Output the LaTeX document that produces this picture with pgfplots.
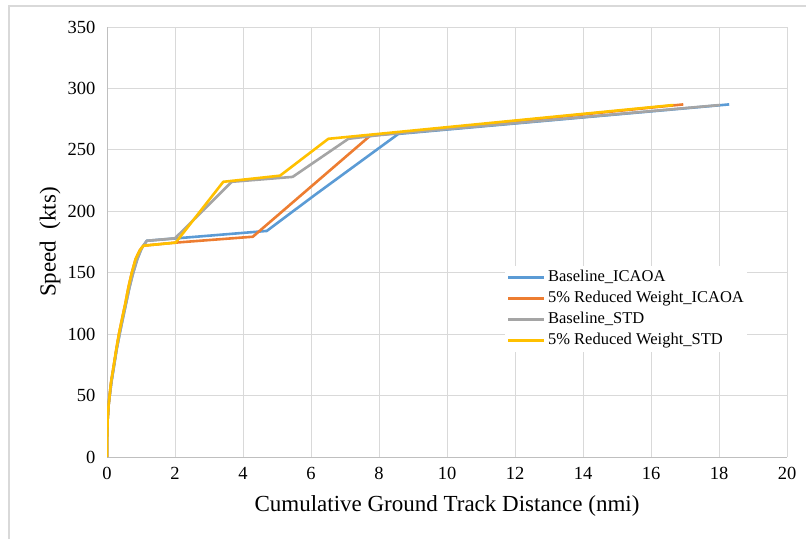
\documentclass[border=0pt]{standalone}
\usepackage{fontspec}
\setmainfont{Liberation Serif}
\usepackage{pgfplots}
\pgfplotsset{compat=1.18}

\definecolor{cBlue}{HTML}{5B9BD5}
\definecolor{cOrange}{HTML}{ED7D31}
\definecolor{cGray}{HTML}{A5A5A5}
\definecolor{cYellow}{HTML}{FFC000}
\definecolor{gridgray}{HTML}{D9D9D9}
\definecolor{axisgray}{HTML}{BFBFBF}

\begin{document}
\begin{tikzpicture}
\useasboundingbox (0,0) rectangle (806pt,539pt);
% outer chart frame
\draw[gridgray, line width=1.3pt] (9pt,0pt) -- (9pt,533pt) -- (806pt,533pt);

\begin{axis}[
  at={(107pt,82pt)}, anchor=south west,
  scale only axis, width=680pt, height=430pt,
  xmin=0, xmax=20, ymin=0, ymax=350,
  xtick={0,2,4,6,8,10,12,14,16,18,20},
  xticklabels={0,2,4,6,8,10,12,14,16,18,20},
  ytick={0,50,100,150,200,250,300,350},
  yticklabels={0,50,100,150,200,250,300,350},
  grid=major,
  major grid style={draw=gridgray, line width=1pt},
  axis x line*=bottom, axis y line*=left,
  axis line style={draw=axisgray, line width=1pt},
  major tick length=0pt,
  tick label style={font=\rmfamily\fontsize{18.5}{20}\selectfont},
  xticklabel style={yshift=-7pt},
  yticklabel style={xshift=-8pt},
  xlabel={Cumulative Ground Track Distance (nmi)},
  ylabel={Speed\ \ (kts)},
  label style={font=\fontsize{23}{26}\selectfont},
  xlabel style={at={(axis description cs:0.5,0)}, anchor=center, yshift=-49pt},
  ylabel style={at={(axis description cs:0,0.5)}, anchor=center, rotate=0, yshift=57pt},
  legend cell align=left,
  legend style={
    at={(0.585,0.445)}, anchor=north west,
    draw=none, fill=white,
    font=\fontsize{16.5}{19}\selectfont,
    inner xsep=2pt, inner ysep=2pt,
    row sep=2pt, column sep=1pt,
    nodes={inner sep=1.5pt, text height=12pt, text depth=4pt},
  },
  legend image code/.code={\draw[#1] (0pt,0pt) -- (36pt,0pt);},
  every axis plot/.append style={line width=2.6pt, line join=round},
]

% Baseline_ICAOA
\addplot[cBlue] coordinates {
  (0,0) (0.005,16) (0.02,31) (0.05,43) (0.085,51) (0.13,61) (0.2,73) (0.28,87)
  (0.37,100) (0.46,112) (0.56,125) (0.66,138) (0.77,150) (0.89,161) (1.02,170)
  (1.17,176) (4.70,184) (6.05,212) (8.57,263) (18.30,287)
};
\addlegendentry{Baseline\_ICAOA}

% 5% Reduced Weight_ICAOA
\addplot[cOrange] coordinates {
  (0,0) (0.005,16) (0.02,31) (0.05,43) (0.08,51) (0.12,61) (0.19,73) (0.27,87)
  (0.35,100) (0.44,112) (0.54,125) (0.63,138) (0.73,150) (0.84,161) (0.96,168)
  (1.07,172) (2.02,174.5) (4.29,179.3) (7.74,261.5) (16.95,287)
};
\addlegendentry{5\% Reduced Weight\_ICAOA}

% Baseline_STD
\addplot[cGray] coordinates {
  (0,0) (0.005,16) (0.02,31) (0.05,43) (0.085,51) (0.13,61) (0.2,73) (0.28,87)
  (0.37,100) (0.46,112) (0.56,125) (0.66,138) (0.77,150) (0.89,161) (1.02,170)
  (1.17,176) (2.00,178) (3.67,224) (5.46,228) (7.10,259) (8.00,262) (18.03,286.5)
};
\addlegendentry{Baseline\_STD}

% 5% Reduced Weight_STD
\addplot[cYellow] coordinates {
  (0,0) (0.005,16) (0.02,31) (0.05,43) (0.08,51) (0.12,61) (0.19,73) (0.27,87)
  (0.35,100) (0.44,112) (0.54,125) (0.63,138) (0.73,150) (0.84,161) (0.96,168)
  (1.07,172) (2.02,174.5) (3.42,224) (5.09,229) (6.51,259) (16.66,286.5)
};
\addlegendentry{5\% Reduced Weight\_STD}

\end{axis}
\end{tikzpicture}
\end{document}
